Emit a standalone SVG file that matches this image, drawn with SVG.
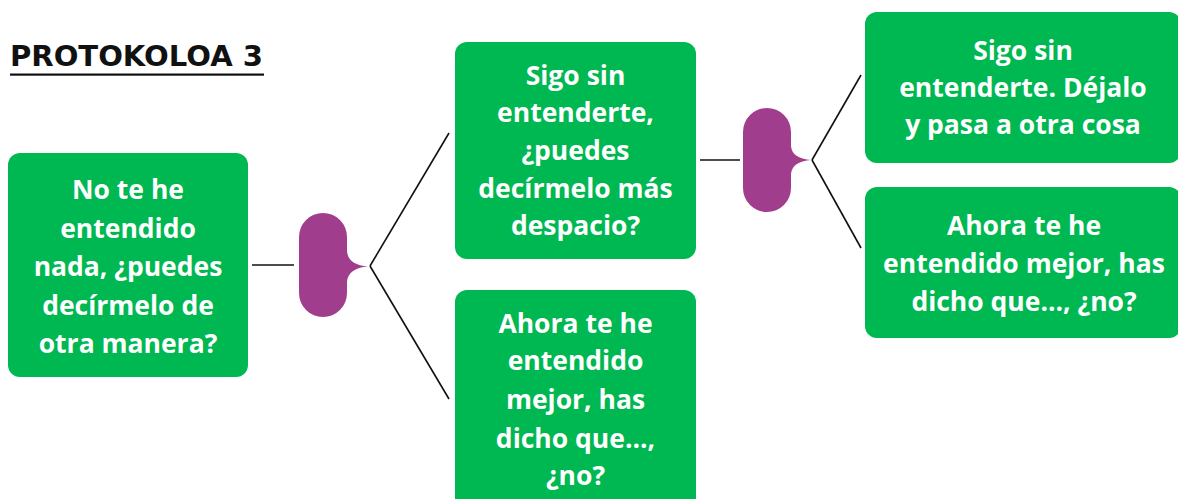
<svg xmlns="http://www.w3.org/2000/svg" width="1178" height="499" viewBox="0 0 1178 499">
<style>
.box{fill:#00B852;}
.brace{fill:#A03D8C;}
.lbl{font-family:"Open Sans","Noto Sans","DejaVu Sans",sans-serif;font-weight:700;font-size:26.5px;fill:#ffffff;text-anchor:middle;}
.title{font-family:"DejaVu Sans","Open Sans",sans-serif;font-weight:700;font-size:27.5px;fill:#111111;}
.conn line{stroke:#111111;stroke-width:1.6;}
</style>
<rect width="1178" height="499" fill="#ffffff"/>
<g id="title">
<text class="title" x="10" y="66" textLength="253" lengthAdjust="spacingAndGlyphs">PROTOKOLOA 3</text>
<rect x="10" y="73.5" width="254" height="2.2" fill="#111111"/>
</g>
<g class="conn" id="connectors">
<line x1="252" y1="265" x2="294" y2="265"/>
<line x1="370" y1="266" x2="449" y2="133"/>
<line x1="370" y1="266" x2="449" y2="399"/>
<line x1="700" y1="160" x2="740" y2="160"/>
<line x1="812" y1="160" x2="861" y2="75"/>
<line x1="812" y1="160" x2="861" y2="248"/>
</g>
<g id="brace1">
<path class="brace" d="M299,237 A24,24 0 0 1 347,237 L347,251 Q348,265 368,266.5 Q348,268 347,282 L347,293 A24,24 0 0 1 299,293 Z"/>
</g>
<g id="brace2">
<path class="brace" d="M743,132 A24,24 0 0 1 791,132 L791,146 Q792,158.5 811,160 Q792,161.5 791,174 L791,188 A24,24 0 0 1 743,188 Z"/>
</g>
<g id="node1">
<rect class="box" x="8" y="153" width="240" height="224" rx="12"/>
<text class="lbl" x="128" y="199">No te he</text>
<text class="lbl" x="128" y="238">entendido</text>
<text class="lbl" x="128" y="276">nada, ¿puedes</text>
<text class="lbl" x="128" y="315">decírmelo de</text>
<text class="lbl" x="128" y="353">otra manera?</text>
</g>
<g id="node2">
<rect class="box" x="455" y="42" width="241" height="217" rx="12"/>
<text class="lbl" x="575.5" y="85">Sigo sin</text>
<text class="lbl" x="575.5" y="122">entenderte,</text>
<text class="lbl" x="575.5" y="160">¿puedes</text>
<text class="lbl" x="575.5" y="198">decírmelo más</text>
<text class="lbl" x="575.5" y="235">despacio?</text>
</g>
<g id="node3">
<rect class="box" x="455" y="290" width="241" height="225" rx="12"/>
<text class="lbl" x="575.5" y="333">Ahora te he</text>
<text class="lbl" x="575.5" y="370">entendido</text>
<text class="lbl" x="575.5" y="409">mejor, has</text>
<text class="lbl" x="575.5" y="448">dicho que...,</text>
<text class="lbl" x="575.5" y="485">¿no?</text>
</g>
<g id="node4">
<rect class="box" x="865" y="12" width="316" height="151" rx="12"/>
<text class="lbl" x="1023" y="60">Sigo sin</text>
<text class="lbl" x="1023" y="97">entenderte. Déjalo</text>
<text class="lbl" x="1023" y="134">y pasa a otra cosa</text>
</g>
<g id="node5">
<rect class="box" x="865" y="187" width="316" height="151" rx="12"/>
<text class="lbl" x="1024" y="235">Ahora te he</text>
<text class="lbl" x="1024" y="273">entendido mejor, has</text>
<text class="lbl" x="1024" y="311">dicho que..., ¿no?</text>
</g>
</svg>
